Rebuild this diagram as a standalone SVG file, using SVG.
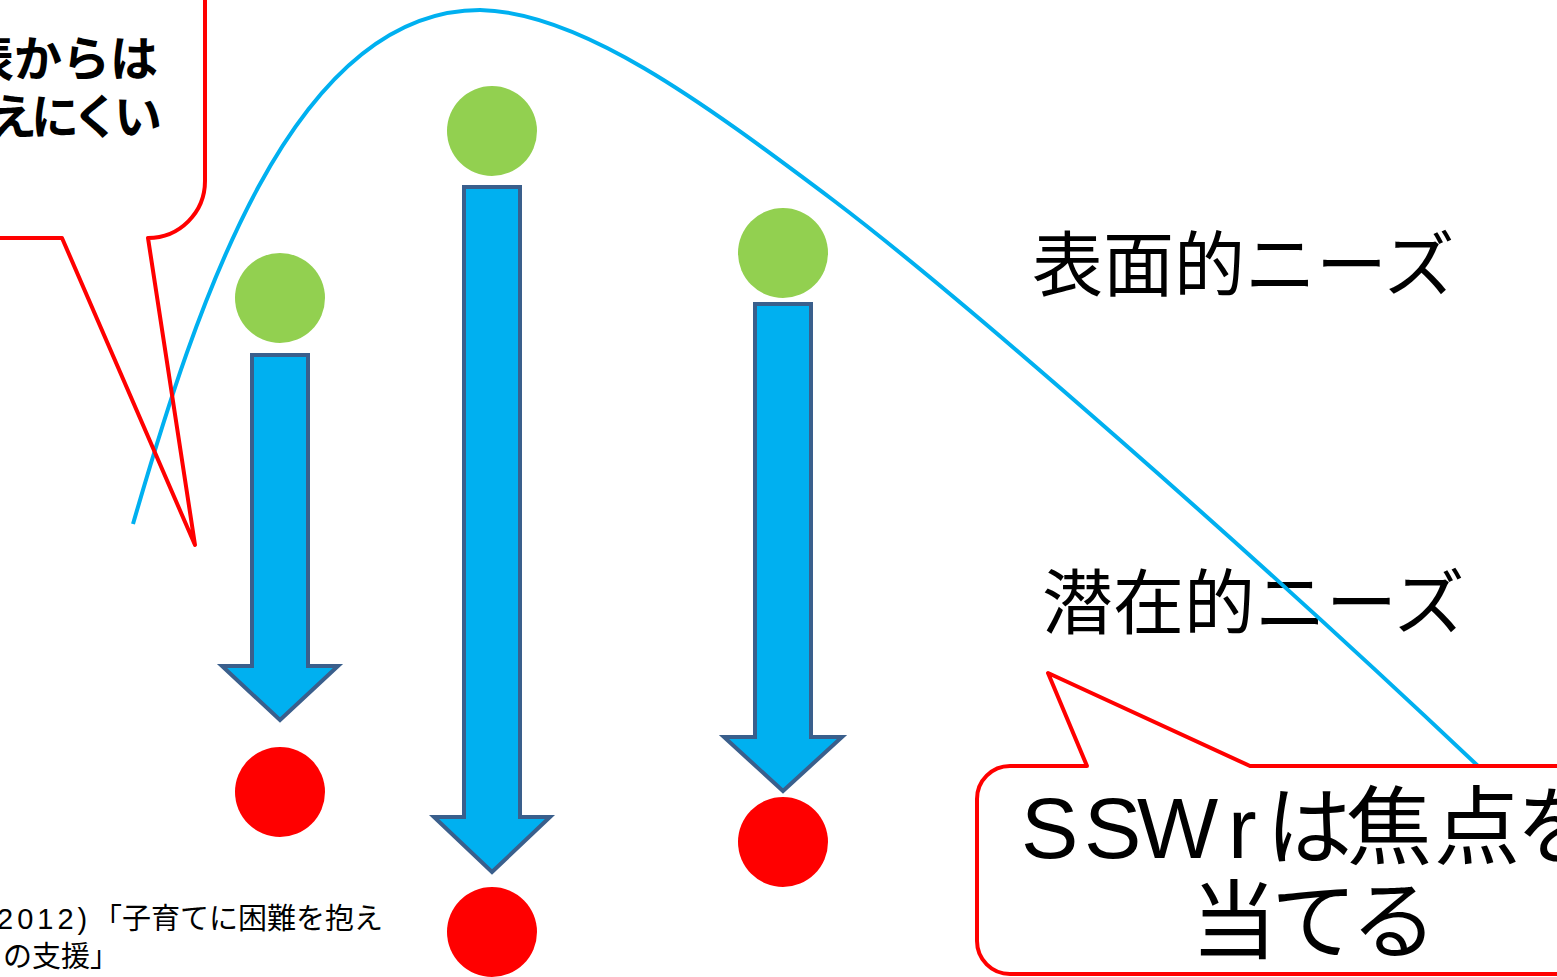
<svg xmlns="http://www.w3.org/2000/svg" width="1557" height="977" viewBox="0 0 1557 977">
<style>
.jp{font-family:"Noto Sans CJK JP","Liberation Sans",sans-serif;fill:#000}
.lat{font-family:"Liberation Sans","Noto Sans CJK JP",sans-serif;fill:#000}
.arrow{fill:#00B0F0;stroke:#3A5F8C;stroke-width:4;stroke-linejoin:miter}
.green{fill:#92D050}
.red{fill:#FF0000}
.callout{stroke:#FF0000;stroke-width:4;stroke-linejoin:round}
</style>
<defs>
<filter id="sh" x="-5%" y="-200%" width="110%" height="500%">
<feDropShadow dx="0" dy="4" stdDeviation="2.5" flood-color="#000" flood-opacity="0.35"/>
</filter>
</defs>
<rect width="1557" height="977" fill="#fff"/>
<g id="baseline">
<line x1="12" y1="419" x2="1553" y2="419" stroke="#000" stroke-width="8" filter="url(#sh)"/>
</g>
<g id="label-surface"><text class="jp" x="1032" y="290" font-size="71">表面的ニーズ</text></g>
<g id="label-latent"><text class="jp" x="1042" y="628" font-size="71">潜在的ニーズ</text></g>
<g id="connectors">
<path d="M133,524 C195,310 290,10 480,10 C580,12 700,100 833,200 C960,296 1250,550 1478,766" fill="none" stroke="#00B0F0" stroke-width="4"/>
</g>
<g id="node1">
<circle class="green" cx="280" cy="298" r="45"/>
<path class="arrow" d="M252,355 H308 V666 H338 L280,720 L222,666 H252 Z"/>
<circle class="red" cx="280" cy="792" r="45"/>
</g>
<g id="node2">
<circle class="green" cx="492" cy="131" r="45"/>
<path class="arrow" d="M464,187 H520 V817 H550 L492,872 L434,817 H464 Z"/>
<circle class="red" cx="492" cy="932" r="45"/>
</g>
<g id="node3">
<circle class="green" cx="783" cy="253" r="45"/>
<path class="arrow" d="M755,304 H811 V737 H842 L783,791 L724,737 H755 Z"/>
<circle class="red" cx="783" cy="842" r="45"/>
</g>
<g id="callout-top">
<path class="callout" fill="none" d="M-10,238 L62,238 L195,545 L148,238 A57,57 0 0 0 205,181 L205,-10"/>
<text class="jp" font-size="48" font-weight="700"><tspan x="-34" y="76">表からは</tspan><tspan x="-53" y="134" letter-spacing="-6">見えにくい</tspan></text>
</g>
<g id="callout-bottom">
<path class="callout" fill="#fff" d="M1087,766 L1048,673 L1250,766 L1610,766 L1610,974 L1010,974 A33,33 0 0 1 977,941 L977,799 A33,33 0 0 1 1010,766 Z"/>
<text class="lat" font-size="86"><tspan x="1021 1084 1137 1228" y="858">SSWr</tspan><tspan x="1266 1346 1434 1516" y="858">は焦点を</tspan><tspan x="1191" y="952" letter-spacing="-6">当てる</tspan></text>
</g>
<g id="footnote">
<text class="lat" font-size="29"><tspan x="-3" y="929" letter-spacing="4">2012)</tspan><tspan x="93" y="929">「子育てに困難を抱え</tspan><tspan x="3" y="967">の支援」</tspan></text>
</g>
</svg>
